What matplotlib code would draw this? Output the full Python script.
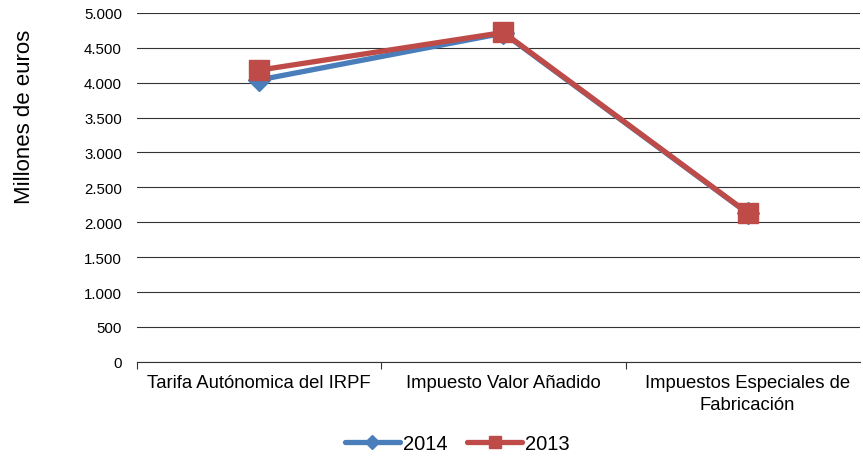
import matplotlib
matplotlib.use("Agg")
import matplotlib.pyplot as plt
import numpy as np
from matplotlib.ticker import FuncFormatter

plt.rcParams['font.family'] = ['Liberation Sans', 'DejaVu Sans']

categories = ["Tarifa Autónomica del IRPF", "Impuesto Valor Añadido",
              "Impuestos Especiales de\nFabricación"]
vals_2014 = [4040, 4710, 2130]
vals_2013 = [4180, 4720, 2135]

fig = plt.figure(figsize=(8.63, 4.64), dpi=100)
ax = fig.add_axes([0.159, 0.218, 0.8375, 0.752])

x = np.arange(len(categories))
ax.plot(x, vals_2014, color='#4a7ebb', lw=3.8, marker='D', ms=11.5,
        solid_capstyle='round', label='2014', zorder=3)
ax.plot(x, vals_2013, color='#be4b48', lw=3.8, marker='s', ms=14.5,
        solid_capstyle='round', label='2013', zorder=4)

ax.set_ylim(0, 5000)
ax.set_yticks(np.arange(0, 5001, 500))
ax.yaxis.set_major_formatter(FuncFormatter(lambda v, p: f"{int(v):,}".replace(",", ".")))
ax.grid(axis='y', color='#333333', lw=0.8)
ax.set_axisbelow(True)
ax.set_xlim(-0.5, 2.46)

for s in ['top', 'right', 'left']:
    ax.spines[s].set_visible(False)
ax.spines['bottom'].set_color('#333333')
ax.spines['bottom'].set_linewidth(0.8)

ax.set_xticks([-0.5, 0.5, 1.5])
ax.set_xticklabels([])
ax.set_xticks(x, minor=True)
ax.set_xticklabels(categories, minor=True, fontsize=13.3, linespacing=1.35)
ax.tick_params(axis='x', which='major', length=5, color='#333333')
ax.tick_params(axis='x', which='minor', length=0, pad=9)
ax.tick_params(axis='y', length=0, labelsize=10.8, pad=11)

ax.set_ylabel("Millones de euros", fontsize=16)
ax.yaxis.set_label_coords(-0.142, 0.705)

leg = ax.legend(loc='center', bbox_to_anchor=(0.443, -0.235), ncol=2, frameon=False,
                fontsize=14.5, handlelength=2.7, columnspacing=1.0,
                handletextpad=0.15, markerscale=0.6)

fig.savefig("out.png", dpi=100)
